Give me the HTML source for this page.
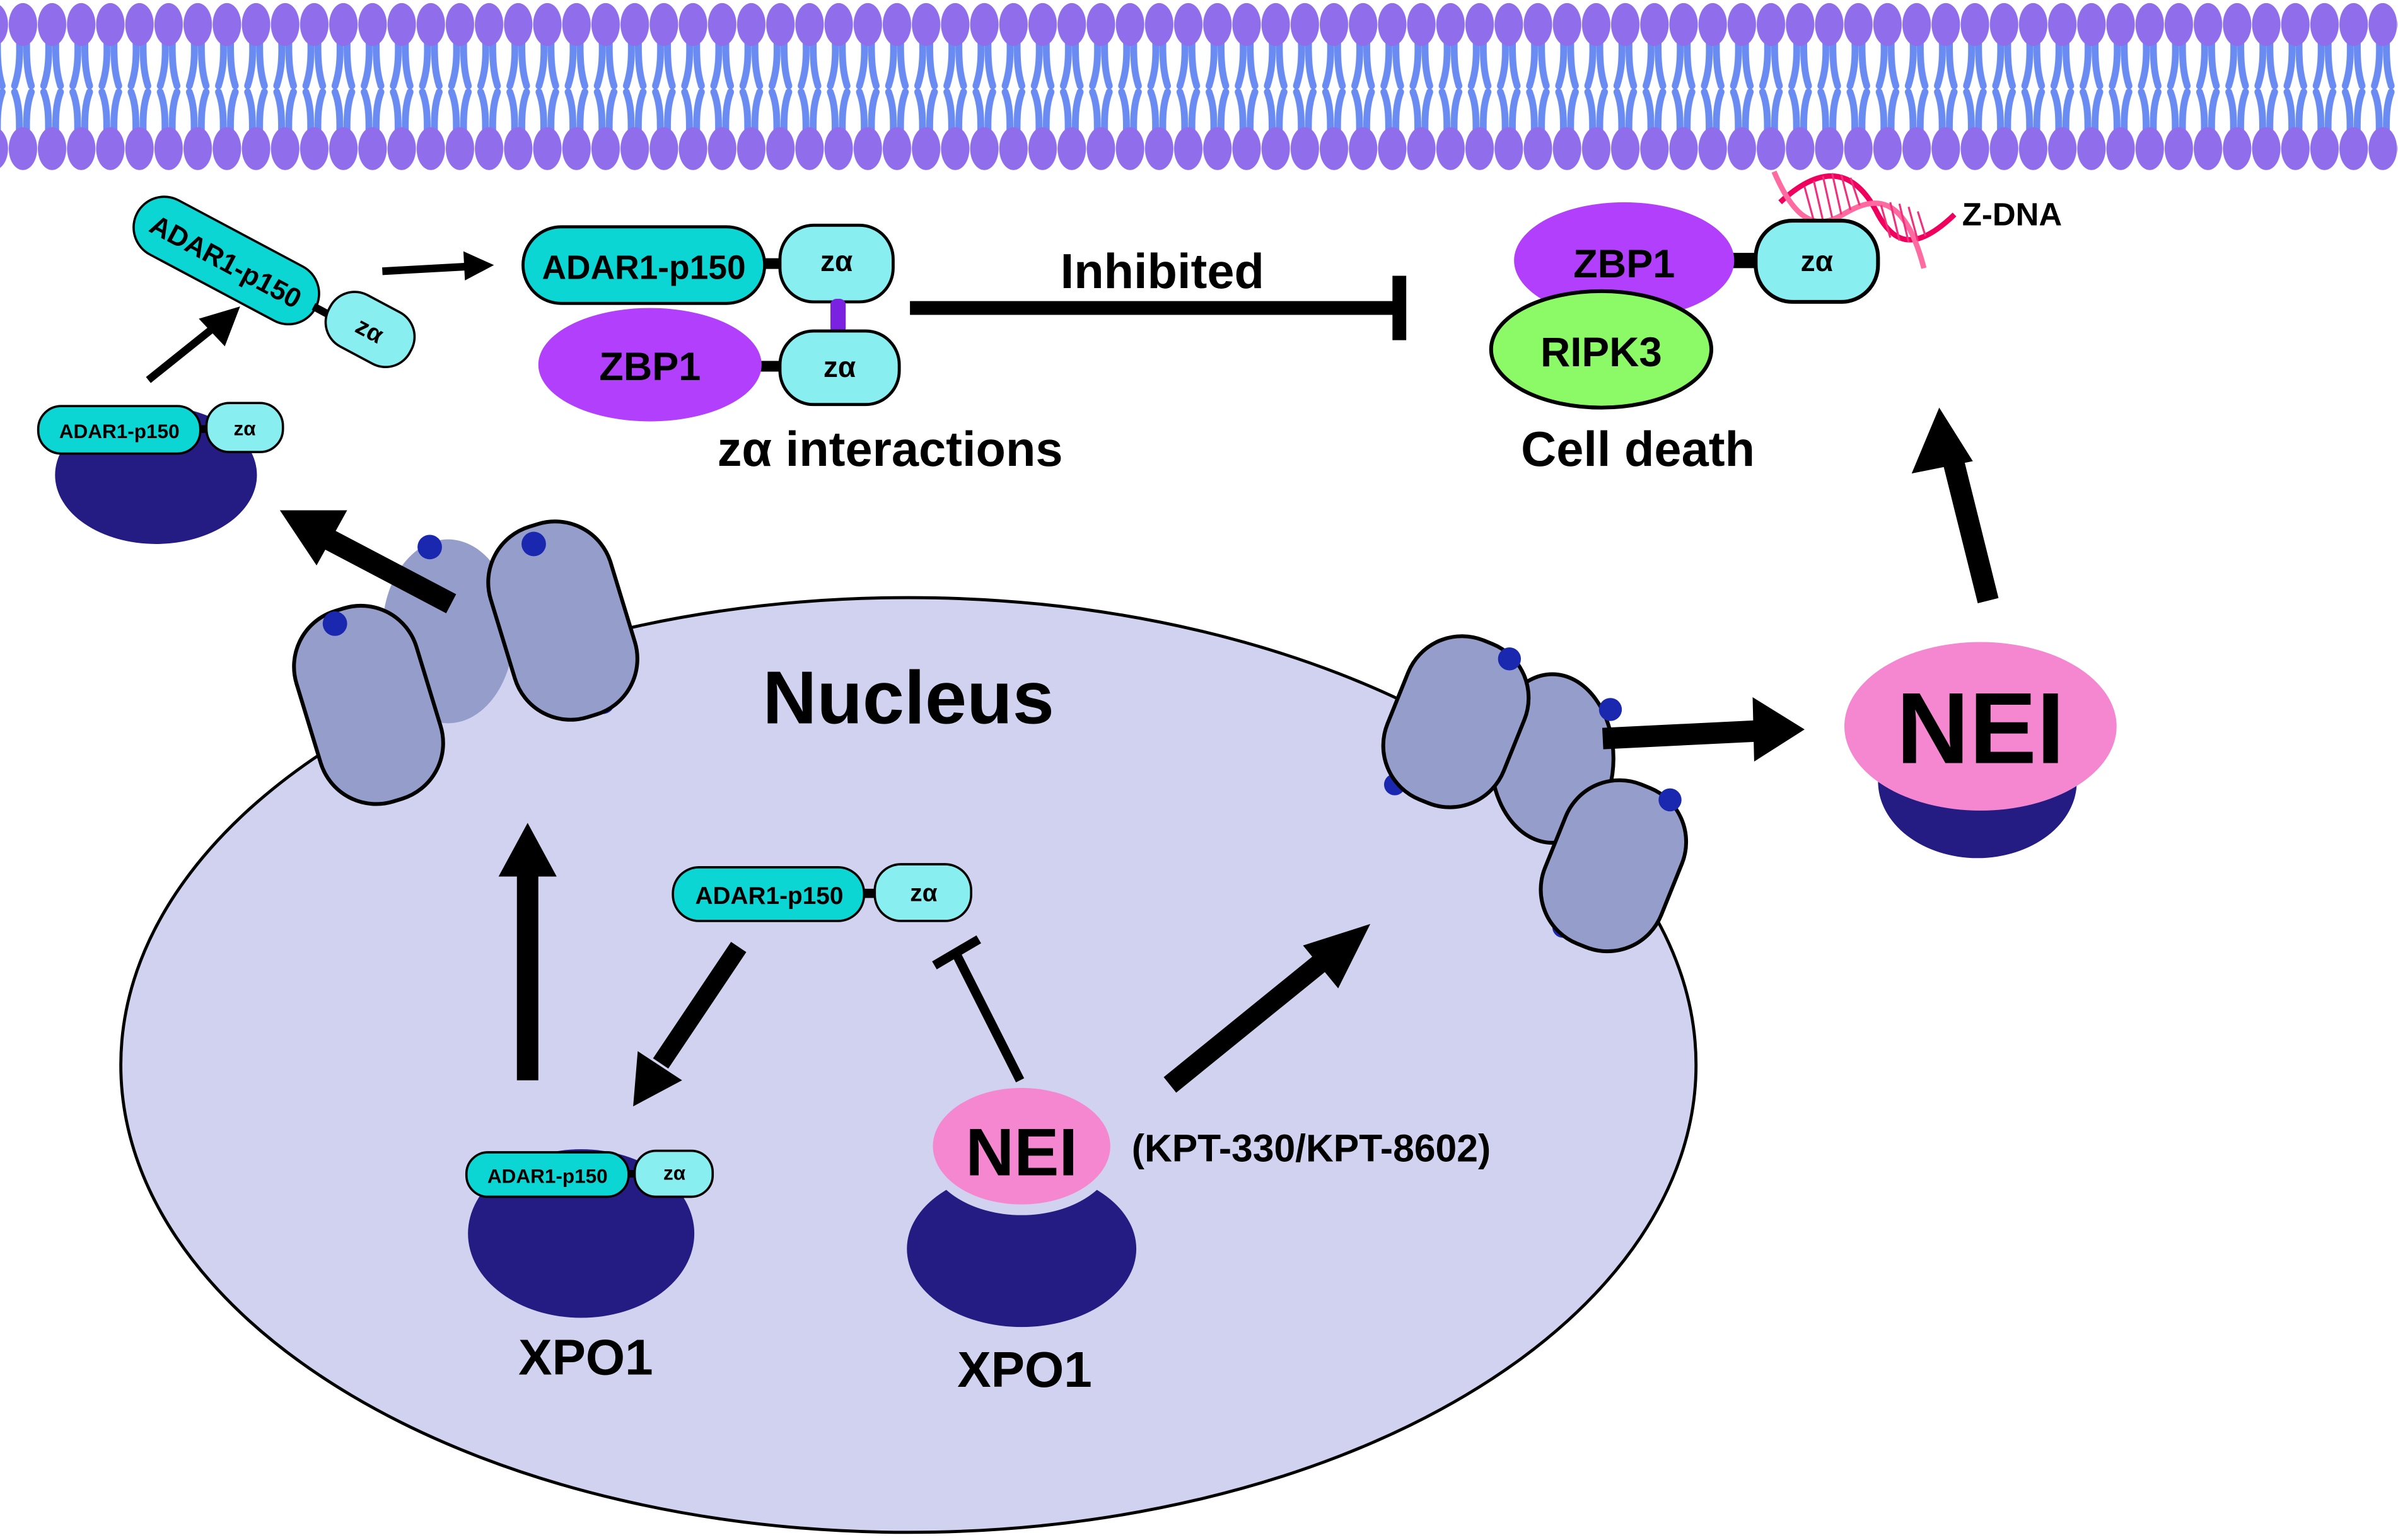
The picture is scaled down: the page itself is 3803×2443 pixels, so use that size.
<!DOCTYPE html>
<html><head><meta charset="utf-8"><style>html,body{margin:0;padding:0;background:#fff}svg{display:block}text{font-family:"Liberation Sans",Arial,sans-serif;font-weight:bold}</style></head>
<body>
<svg width="3803" height="2443" viewBox="0 0 1568 1005" preserveAspectRatio="none" xmlns="http://www.w3.org/2000/svg">
<defs>
<pattern id="mem" x="5.5" y="0" width="19.05" height="115" patternUnits="userSpaceOnUse">
<g fill="none" stroke="#6a8bf2" stroke-width="4.5" stroke-linecap="round">
<path d="M7,22 C8,40 6.5,48 4,56"/><path d="M12,22 C11.5,40 12.5,48 15,56"/>
<path d="M4,60 C7,68 7.5,76 7,92"/><path d="M15,60 C12,68 11.5,76 12,92"/>
</g>
<ellipse cx="9.5" cy="16" rx="9.3" ry="14" fill="#8f6deb"/>
<ellipse cx="9.5" cy="97" rx="9.3" ry="14" fill="#8f6deb"/>
</pattern>
</defs>
<rect x="0" y="0" width="1568" height="115" fill="url(#mem)"/>

<!-- Nucleus -->
<ellipse cx="594" cy="695" rx="515" ry="305" fill="#d0d2ef" stroke="#000" stroke-width="2"/>

<!-- left pores -->
<ellipse cx="293" cy="412" rx="43" ry="60" fill="#959dcb"/>
<circle cx="281" cy="357" r="8" fill="#1a28b0"/>
<circle cx="394" cy="458" r="8" fill="#1a28b0"/>
<circle cx="261" cy="510" r="8" fill="#1a28b0"/>
<rect x="200" y="395" width="82" height="130" rx="38" transform="rotate(-17 241 460)" fill="#959dcb" stroke="#000" stroke-width="2.5"/>
<rect x="327" y="340" width="82" height="130" rx="38" transform="rotate(-17 368 405)" fill="#959dcb" stroke="#000" stroke-width="2.5"/>
<circle cx="219" cy="407" r="8" fill="#1a28b0"/>
<circle cx="349" cy="355" r="8" fill="#1a28b0"/>

<!-- right pores -->
<ellipse cx="1015" cy="495" rx="40" ry="55" fill="#959dcb" stroke="#000" stroke-width="2.5"/>
<circle cx="912" cy="512" r="7" fill="#1a28b0"/>
<circle cx="1022" cy="605" r="7" fill="#1a28b0"/>
<rect x="911" y="415" width="82" height="112" rx="38" transform="rotate(22 952 471)" fill="#959dcb" stroke="#000" stroke-width="2.5"/>
<rect x="1014" y="509" width="82" height="112" rx="38" transform="rotate(22 1055 565)" fill="#959dcb" stroke="#000" stroke-width="2.5"/>
<circle cx="987" cy="430" r="7.5" fill="#1a28b0"/>
<circle cx="1053" cy="463" r="7.5" fill="#1a28b0"/>
<circle cx="1092" cy="522" r="7.5" fill="#1a28b0"/>

<text x="594" y="472" font-size="49" text-anchor="middle">Nucleus</text>

<!-- top-left XPO1 with ADAR1 -->
<ellipse cx="102" cy="310" rx="66" ry="45" fill="#241c82"/>
<line x1="128" y1="280" x2="140" y2="280" stroke="#000" stroke-width="5"/>
<rect x="25" y="265" width="106" height="31" rx="15" fill="#0cd6d4" stroke="#000" stroke-width="1.5"/>
<text x="78" y="286" font-size="13" text-anchor="middle">ADAR1-p150</text>
<rect x="135" y="263" width="50" height="32" rx="15" fill="#88eef0" stroke="#000" stroke-width="1.5"/>
<text x="160" y="284" font-size="13" text-anchor="middle">zα</text>

<!-- rotated ADAR1 -->
<g transform="rotate(28 148 170)">
<rect x="82" y="150" width="132" height="40" rx="20" fill="#0cd6d4" stroke="#000" stroke-width="1.5"/>
<text x="148" y="177" font-size="18" text-anchor="middle">ADAR1-p150</text>
</g>
<line x1="205" y1="200" x2="220" y2="208" stroke="#000" stroke-width="5"/>
<g transform="rotate(28 242 215)">
<rect x="212" y="196" width="60" height="38" rx="18" fill="#88eef0" stroke="#000" stroke-width="1.5"/>
<text x="242" y="221" font-size="16" text-anchor="middle">zα</text>
</g>

<!-- small arrows -->
<line x1="97" y1="248" x2="142" y2="212" stroke="#000" stroke-width="5"/>
<polygon points="157,200 130,208 147,226" fill="#000"/>
<line x1="250" y1="177" x2="305" y2="174" stroke="#000" stroke-width="5"/>
<polygon points="323,173 303,164 304,183" fill="#000"/>

<!-- zα interactions -->
<line x1="495" y1="172" x2="515" y2="172" stroke="#000" stroke-width="7"/>
<rect x="342" y="148" width="158" height="50" rx="25" fill="#0cd6d4" stroke="#000" stroke-width="2"/>
<text x="421" y="182" font-size="22" text-anchor="middle">ADAR1-p150</text>
<rect x="510" y="147" width="74" height="50" rx="22" fill="#88eef0" stroke="#000" stroke-width="2"/>
<text x="547" y="177" font-size="19" text-anchor="middle">zα</text>
<rect x="543" y="195" width="10" height="23" rx="4" fill="#7a22e0"/>
<line x1="490" y1="239" x2="515" y2="239" stroke="#000" stroke-width="7"/>
<ellipse cx="425" cy="238" rx="73" ry="37" fill="#b13ffb"/>
<text x="425" y="248" font-size="26" text-anchor="middle">ZBP1</text>
<rect x="510" y="216" width="78" height="48" rx="22" fill="#88eef0" stroke="#000" stroke-width="2"/>
<text x="549" y="246" font-size="19" text-anchor="middle">zα</text>
<text x="582" y="304" font-size="32" text-anchor="middle">zα interactions</text>

<!-- inhibited -->
<text x="760" y="188" font-size="32" text-anchor="middle">Inhibited</text>
<line x1="595" y1="201" x2="915" y2="201" stroke="#000" stroke-width="9"/>
<line x1="915" y1="180" x2="915" y2="222" stroke="#000" stroke-width="9"/>

<!-- Cell death complex -->
<path d="M1164,132 C1190,108 1212,108 1228,140 C1240,162 1255,162 1278,140" fill="none" stroke="#f0005c" stroke-width="3.5"/>
<path d="M1160,112 C1172,140 1185,152 1205,140 C1225,128 1245,125 1258,175" fill="none" stroke="#ff6aa0" stroke-width="3.5"/>
<g stroke="#f0307a" stroke-width="1.3">
<line x1="1180" y1="122" x2="1186" y2="144"/><line x1="1186" y1="118" x2="1192" y2="144"/><line x1="1192" y1="115" x2="1198" y2="142"/><line x1="1198" y1="113" x2="1204" y2="140"/><line x1="1204" y1="114" x2="1210" y2="137"/><line x1="1210" y1="116" x2="1216" y2="134"/><line x1="1230" y1="134" x2="1236" y2="155"/><line x1="1236" y1="132" x2="1242" y2="157"/><line x1="1242" y1="133" x2="1248" y2="158"/><line x1="1248" y1="135" x2="1254" y2="157"/><line x1="1254" y1="138" x2="1259" y2="154"/>
</g>
<text x="1283" y="147" font-size="21">Z-DNA</text>
<line x1="1125" y1="170" x2="1155" y2="170" stroke="#000" stroke-width="10"/>
<ellipse cx="1062" cy="170" rx="72" ry="38" fill="#b13ffb"/>
<text x="1062" y="181" font-size="26" text-anchor="middle">ZBP1</text>
<rect x="1148" y="144" width="80" height="53" rx="24" fill="#88eef0" stroke="#000" stroke-width="2.5"/>
<text x="1188" y="177" font-size="19" text-anchor="middle">zα</text>
<ellipse cx="1047" cy="228" rx="72" ry="38" fill="#8cfa66" stroke="#000" stroke-width="2.5"/>
<text x="1047" y="239" font-size="27" text-anchor="middle">RIPK3</text>
<text x="1071" y="304" font-size="32" text-anchor="middle">Cell death</text>

<!-- arrow up to cell death -->
<line x1="1300" y1="392" x2="1277" y2="300" stroke="#000" stroke-width="14"/>
<polygon points="1268,266 1250,309 1290,301" fill="#000"/>

<!-- big NEI -->
<ellipse cx="1293" cy="510" rx="65" ry="50" fill="#241c82"/>
<ellipse cx="1295" cy="474" rx="89" ry="55" fill="#f487d0"/>
<text x="1295" y="498" font-size="66" text-anchor="middle">NEI</text>
<line x1="1048" y1="482" x2="1150" y2="477" stroke="#000" stroke-width="14"/>
<polygon points="1180,476 1146,455 1147,497" fill="#000"/>

<!-- arrow to left exit -->
<line x1="295" y1="394" x2="215" y2="352" stroke="#000" stroke-width="14"/>
<polygon points="183,333 227,333 207,369" fill="#000"/>

<!-- nucleus internal -->
<line x1="345" y1="705" x2="345" y2="568" stroke="#000" stroke-width="14"/>
<polygon points="345,537 326,572 364,572" fill="#000"/>

<line x1="563" y1="583" x2="578" y2="583" stroke="#000" stroke-width="6"/>
<rect x="440" y="566" width="125" height="35" rx="17" fill="#0cd6d4" stroke="#000" stroke-width="1.5"/>
<text x="503" y="590" font-size="16" text-anchor="middle">ADAR1-p150</text>
<rect x="572" y="564" width="63" height="37" rx="17" fill="#88eef0" stroke="#000" stroke-width="1.5"/>
<text x="604" y="588" font-size="16" text-anchor="middle">zα</text>

<line x1="483" y1="618" x2="432" y2="694" stroke="#000" stroke-width="12"/>
<polygon points="414,722 417,686 446,705" fill="#000"/>

<line x1="667" y1="705" x2="625" y2="622" stroke="#000" stroke-width="6"/>
<line x1="611" y1="630" x2="640" y2="613" stroke="#000" stroke-width="6"/>

<line x1="765" y1="708" x2="870" y2="623" stroke="#000" stroke-width="13"/>
<polygon points="896,603 852,617 875,645" fill="#000"/>

<!-- XPO1 left -->
<ellipse cx="380" cy="805" rx="74" ry="55" fill="#241c82"/>
<line x1="405" y1="766" x2="420" y2="766" stroke="#000" stroke-width="5"/>
<rect x="305" y="752" width="106" height="29" rx="14" fill="#0cd6d4" stroke="#000" stroke-width="1.5"/>
<text x="358" y="772" font-size="13" text-anchor="middle">ADAR1-p150</text>
<rect x="415" y="751" width="51" height="30" rx="14" fill="#88eef0" stroke="#000" stroke-width="1.5"/>
<text x="441" y="770" font-size="13" text-anchor="middle">zα</text>
<text x="383" y="897" font-size="33" text-anchor="middle">XPO1</text>

<!-- NEI small + XPO1 -->
<ellipse cx="668" cy="815" rx="75" ry="51" fill="#241c82"/>
<ellipse cx="668" cy="751" rx="62" ry="42" fill="#d0d2ef"/>
<ellipse cx="668" cy="748" rx="58" ry="38" fill="#f487d0"/>
<text x="668" y="767" font-size="44" text-anchor="middle">NEI</text>
<text x="740" y="758" font-size="25">(KPT-330/KPT-8602)</text>
<text x="670" y="905" font-size="33" text-anchor="middle">XPO1</text>
</svg>
</body></html>
